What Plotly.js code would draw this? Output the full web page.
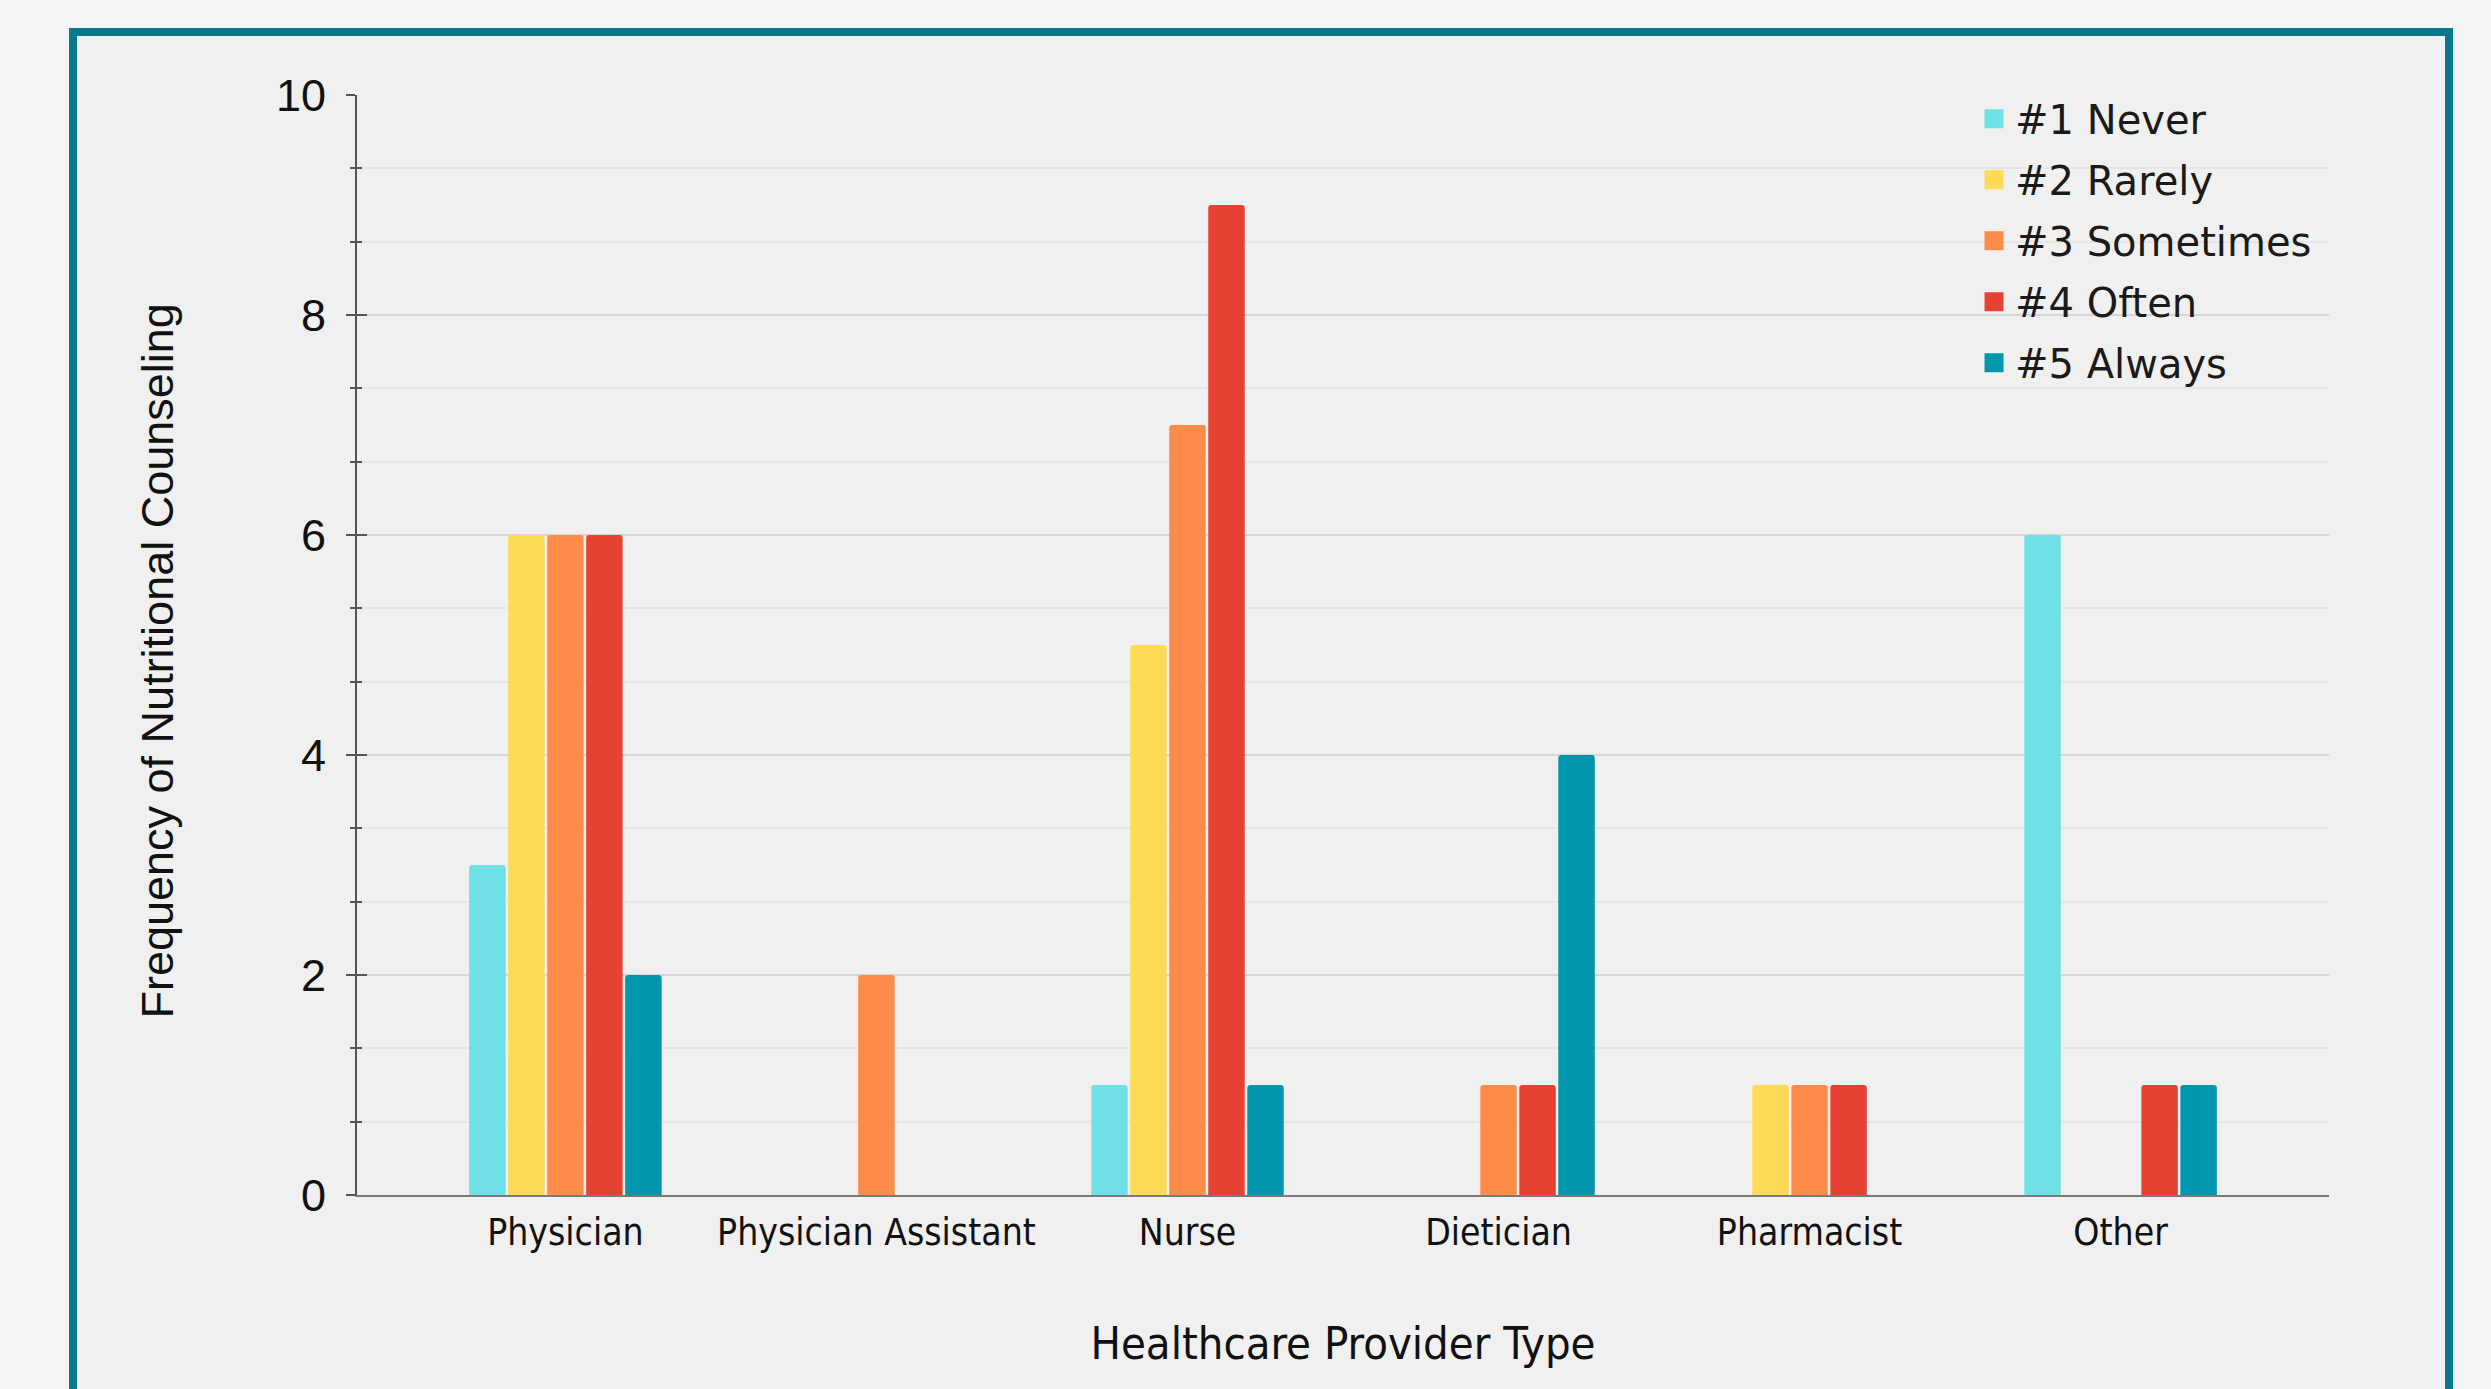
<!DOCTYPE html>
<html>
<head>
<meta charset="utf-8">
<script src="https://cdn.plot.ly/plotly-3.0.1.min.js"></script>
<style>
  html, body { margin: 0; padding: 0; width: 2491px; height: 1389px; overflow: hidden; background: #f4f4f4; }
  #frame { position: absolute; left: 69px; top: 28px; width: 2384px; height: 1420px; box-sizing: border-box;
           border: 8px solid #077a8c; background: #f0f0f0; }
  #chart { position: absolute; left: 0; top: 0; width: 2491px; height: 1389px; }
</style>
</head>
<body>
<div id="frame"></div>
<div id="chart"></div>
<script>
const categories = ["Physician", "Physician Assistant", "Nurse", "Dietician", "Pharmacist", "Other"];
const seriesNames = ["#1 Never", "#2 Rarely", "#3 Sometimes", "#4 Often", "#5 Always"];
const never     = [3, 0, 1, 0, 0, 6];
const rarely    = [6, 0, 5, 0, 1, 0];
const sometimes = [6, 2, 7, 1, 1, 0];
const often     = [6, 0, 9, 1, 1, 1];
const always    = [2, 0, 1, 4, 0, 1];
const seriesColors = ["#6fe0e6", "#fddb57", "#fd8c4a", "#e64234", "#0296ae"];
const seriesValues = [never, rarely, sometimes, often, always];
const xTitle = "Healthcare Provider Type";
const yTitle = "Frequency of Nutritional Counseling";

const traces = seriesValues.map((vals, i) => ({
  type: "bar",
  name: seriesNames[i],
  x: categories,
  y: vals,
  legendgroup: "g" + i,
  marker: { color: seriesColors[i], line: { width: 0 }, cornerradius: 3 },
  hoverinfo: "x+y+name"
}));
// helper trace so the overlaying tick axis is drawn
traces.push({ type: "scatter", x: [], y: [], yaxis: "y2", showlegend: false, hoverinfo: "skip" });

const arialLike = "Liberation Sans, Arial, sans-serif";
const tahomaLike = "DejaVu Sans Condensed, DejaVu Sans, sans-serif";

const layout = {
  width: 2491, height: 1389,
  paper_bgcolor: "rgba(0,0,0,0)",
  plot_bgcolor: "rgba(0,0,0,0)",
  margin: { l: 357, r: 162, t: 95, b: 194, pad: 0 },
  barmode: "group",
  bargap: 0.373,
  bargroupgap: 0.065,
  showlegend: true,
  legend: {
    x: 0.8205, xanchor: "left", xref: "paper",
    y: 1.008, yanchor: "top",
    bgcolor: "rgba(0,0,0,0)",
    font: { family: "DejaVu Sans, Verdana, sans-serif", size: 40, color: "#1a1a1a" },
    traceorder: "grouped",
    tracegroupgap: 6
  },
  xaxis: {
    type: "category",
    range: [-0.67, 5.67],
    showgrid: false,
    zeroline: false,
    showline: true, linecolor: "#7a7a7a", linewidth: 2,
    ticks: "",
    tickfont: { family: tahomaLike, size: 37, color: "#111" },
    ticklabelstandoff: 4,
    title: { text: xTitle, font: { family: tahomaLike, size: 45, color: "#111" }, standoff: 74 },
    fixedrange: true
  },
  yaxis: {
    range: [0, 10],
    tick0: 0, dtick: 2,
    showgrid: true, gridcolor: "#d6d6d6", gridwidth: 2,
    zeroline: false,
    showline: true, linecolor: "#555", linewidth: 2,
    ticks: "outside", ticklen: 9, tickwidth: 2, tickcolor: "#555",
    minor: { tick0: 0, dtick: 2/3, ticks: "outside", ticklen: 5, tickwidth: 2, tickcolor: "#555",
             showgrid: true, gridcolor: "#e6e6e6", gridwidth: 2 },
    tickfont: { family: arialLike, size: 45, color: "#111" },
    ticklabelstandoff: 11,
    fixedrange: true
  },
  yaxis2: {
    overlaying: "y", anchor: "x", side: "left",
    range: [0, 10], tick0: 0, dtick: 2,
    showgrid: false, zeroline: false, showline: false, showticklabels: false,
    ticks: "inside", ticklen: 10, tickwidth: 2, tickcolor: "#555",
    minor: { tick0: 0, dtick: 2/3, ticks: "inside", ticklen: 5, tickwidth: 2, tickcolor: "#555", showgrid: false },
    fixedrange: true
  },
  annotations: [{
    text: yTitle,
    xref: "paper", yref: "paper",
    x: -0.1014, y: 0.485,
    xanchor: "center", yanchor: "middle",
    textangle: -90,
    showarrow: false,
    font: { family: arialLike, size: 45, color: "#111" }
  }]
};

Plotly.newPlot("chart", traces, layout, { displayModeBar: false, staticPlot: true }).then(gd => {
  // enlarge legend swatches to match the reference (square, ~19px)
  gd.querySelectorAll(".legend .legendpoints path").forEach(p => {
    p.removeAttribute("transform");
    p.setAttribute("d", "M28.5,9.5H9.5V-9.5H28.5Z");
  });
});
</script>
</body>
</html>
